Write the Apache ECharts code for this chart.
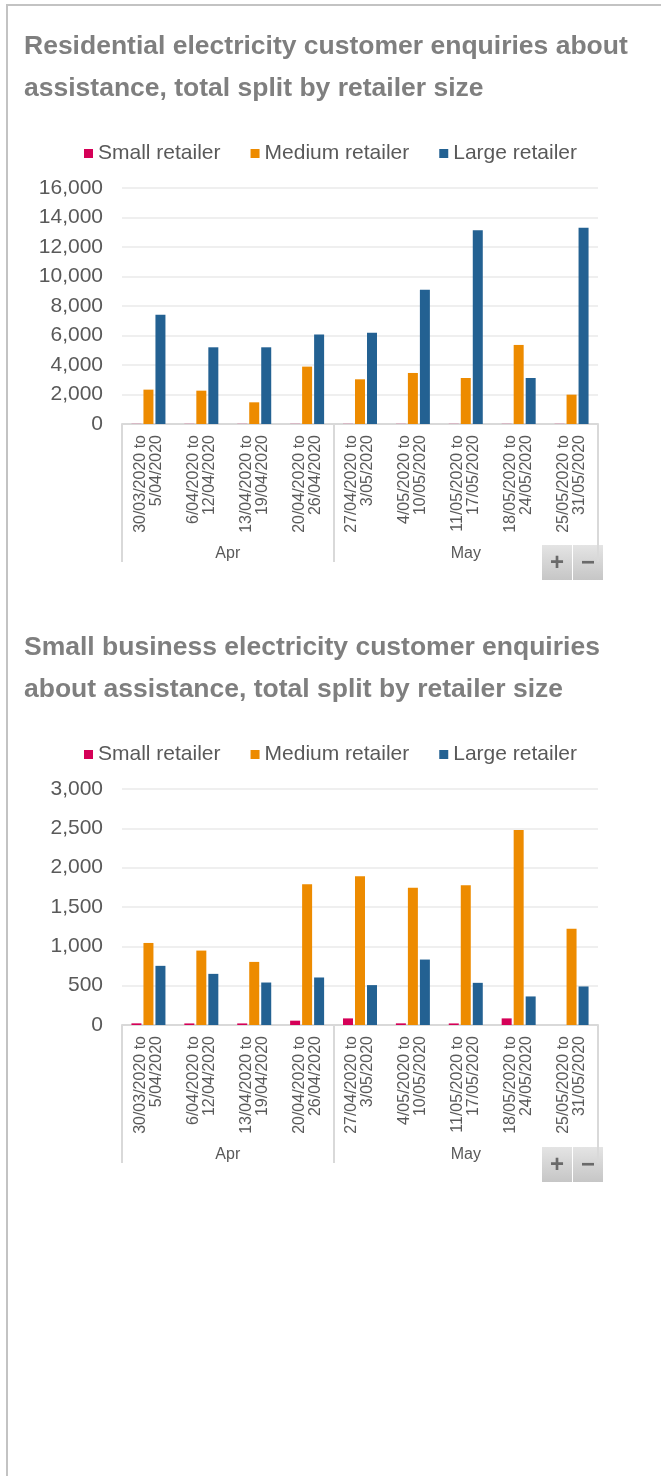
<!DOCTYPE html>
<html>
<head>
<meta charset="utf-8">
<script src="https://cdn.jsdelivr.net/npm/echarts@6/dist/echarts.min.js"></script>
<style>
  html, body { margin: 0; padding: 0; background: #fff; }
  #frame {
    position: absolute; left: 6px; top: 4px; width: 700px; height: 1500px;
    border-left: 2px solid #c3c3c3; border-top: 2px solid #c3c3c3;
    pointer-events: none;
  }
  #chart { position: absolute; left: 0; top: 0; width: 661px; height: 1476px; }
</style>
</head>
<body>
<div id="chart"></div>
<div id="frame"></div>
<script>
// weekly periods, grouped by month
const categories = [
  '30/03/2020 to 5/04/2020', '6/04/2020 to 12/04/2020', '13/04/2020 to 19/04/2020',
  '20/04/2020 to 26/04/2020', '27/04/2020 to 3/05/2020', '4/05/2020 to 10/05/2020',
  '11/05/2020 to 17/05/2020', '18/05/2020 to 24/05/2020', '25/05/2020 to 31/05/2020'
]
const months = ['Apr', 'May']
const monthSpans = [4, 5]
const seriesNames = ['Small retailer', 'Medium retailer', 'Large retailer']

// residential
const resSmall = [10, 10, 10, 10, 10, 10, 10, 10, 10]
const resMedium = [2330, 2260, 1470, 3890, 3030, 3460, 3120, 5360, 1990]
const resLarge = [7400, 5200, 5200, 6070, 6180, 9100, 13130, 3120, 13310]

// small business
const busSmall = [21, 20, 20, 55, 84, 21, 20, 84, 0]
const busMedium = [1043, 946, 802, 1790, 1892, 1744, 1778, 2479, 1225]
const busLarge = [752, 650, 540, 604, 507, 832, 536, 363, 490]

const titles = [
  'Residential electricity customer enquiries about\nassistance, total split by retailer size',
  'Small business electricity customer enquiries\nabout assistance, total split by retailer size'
]

const colors = ['#d50057', '#ed8b00', '#236192']
const FONT = "'Liberation Sans', Arial, sans-serif"
const txt = '#595959'
const axisGray = '#d9d9d9'

// month boundaries + label positions on a 0..N value axis
const monthBounds = [0]
monthSpans.forEach((s, i) => monthBounds.push(monthBounds[i] + s))
const monthMids = months.map((m, i) => (monthBounds[i] + monthBounds[i + 1]) / 2)

const chart = echarts.init(document.getElementById('chart'), null, { renderer: 'canvas' })

function block(k, top, yMax, yStep, data) {
  const gridTop = top
  return {
    title: {
      text: titles[k], left: 24, top: gridTop - 162, padding: 0,
      textStyle: { fontFamily: FONT, fontSize: 26.5, fontWeight: 'bold', color: '#7f7f7f', lineHeight: 42 }
    },
    legend: {
      data: seriesNames, left: 'center', top: gridTop - 45, padding: 0,
      icon: 'rect', itemWidth: 9, itemHeight: 9, itemGap: 30,
      textStyle: { fontFamily: FONT, fontSize: 21, color: txt }
    },
    grid: { left: 122, right: 63, top: gridTop, height: 236 },
    xAxes: [
      {
        type: 'category', gridIndex: k, data: categories,
        axisLine: { lineStyle: { color: axisGray, width: 2 } },
        axisTick: { interval: 0, length: 108, lineStyle: { color: axisGray, width: 2 } },
        axisLabel: {
          interval: 0, rotate: 90, margin: 11, fontFamily: FONT, fontSize: 16, lineHeight: 16, color: txt,
          formatter: v => v.replace(' to ', ' to\n')
        }
      },
      {
        type: 'value', gridIndex: k, min: 0, max: categories.length, position: 'bottom',
        splitLine: { show: false },
        axisLine: { show: false },
        axisTick: { show: true, customValues: monthBounds, length: 138, lineStyle: { color: axisGray, width: 2 } },
        axisLabel: {
          customValues: monthMids, margin: 122, fontFamily: FONT, fontSize: 16, color: txt,
          formatter: v => months[monthMids.indexOf(v)]
        }
      }
    ],
    yAxis: {
      type: 'value', gridIndex: k, min: 0, max: yMax, interval: yStep,
      axisLine: { show: false }, axisTick: { show: false },
      splitLine: { lineStyle: { color: '#efefef', width: 2 } },
      axisLabel: {
        margin: 19, fontFamily: FONT, fontSize: 21, color: txt,
        formatter: v => v.toLocaleString('en-US')
      }
    },
    series: data.map((d, i) => ({
      name: seriesNames[i], type: 'bar', xAxisIndex: k * 2, yAxisIndex: k,
      data: d, barWidth: 10, barGap: '20%',
      itemStyle: { color: colors[i] }
    }))
  }
}

function zoomButtons(y) {
  const btn = (x, sym) => ({
    type: 'group', x: x, y: y,
    children: [
      { type: 'rect', shape: { x: 0, y: 0, width: 30, height: 35 },
        style: { fill: new echarts.graphic.LinearGradient(0, 0, 0, 1, [
          { offset: 0, color: '#e4e4e4' }, { offset: 1, color: '#c6c6c6' }]) } },
      { type: 'text', x: 15, y: 18, style: { text: sym, fill: '#6a6a6a', fontSize: 24, fontWeight: 'bold',
        fontFamily: FONT, align: 'center', verticalAlign: 'middle' } }
    ]
  })
  return [btn(542, '+'), btn(573, '−')]
}

const b1 = block(0, 188, 16000, 2000, [resSmall, resMedium, resLarge])
const b2 = block(1, 789, 3000, 500, [busSmall, busMedium, busLarge])

chart.setOption({
  animation: false,
  textStyle: { fontFamily: FONT },
  title: [b1.title, b2.title],
  legend: [b1.legend, b2.legend],
  grid: [b1.grid, b2.grid],
  xAxis: [...b1.xAxes, ...b2.xAxes],
  yAxis: [b1.yAxis, b2.yAxis],
  series: [...b1.series, ...b2.series.map(s => Object.assign(s, { legendIndex: 1 }))],
  graphic: [...zoomButtons(545), ...zoomButtons(1147)]
})
</script>
</body>
</html>
